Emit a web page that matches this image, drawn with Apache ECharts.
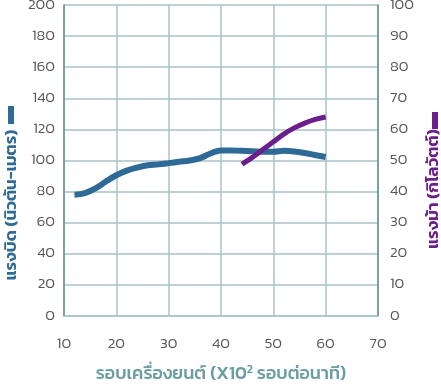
<!DOCTYPE html>
<html>
<head>
<meta charset="utf-8">
<script src="https://cdn.jsdelivr.net/npm/echarts@6/dist/echarts.min.js"></script>
<style>html,body{margin:0;padding:0;background:#fff}#c{width:441px;height:386px}</style>
</head>
<body>
<div id="c"></div>
<script>
var rpm = [12, 14, 16, 18, 20, 22, 24, 26, 28, 30, 32, 34, 36, 38, 40, 42, 44, 46, 48, 50, 52, 54, 56, 58, 60];
var torque = [78, 79, 82, 86.5, 90.5, 93.5, 95.5, 97, 97.5, 98.3, 99.2, 100, 101.5, 104.5, 106.5, 106.5, 106.2, 106, 105.6, 105.6, 106.2, 105.8, 104.8, 103.5, 102.3];
var powerRpm = [44, 46, 48, 50, 52, 54, 56, 58, 60];
var power = [48.8, 51, 53.5, 56, 58.5, 60.5, 62, 63.2, 64];
var leftTicks = [0, 20, 40, 60, 80, 100, 120, 140, 160, 180, 200];
var rightTicks = [0, 10, 20, 30, 40, 50, 60, 70, 80, 90, 100];
var xNameA = 'รอบเครื่องยนต์ (X10';
var xNameSup = '2';
var xNameB = ' รอบต่อนาที)';
var leftName = 'แรงบิด (นิวตัน-เมตร)';
var rightName = 'แรงม้า (กิโลวัตต์)';

var font = 'Kanit, "Noto Sans Thai", "Noto Sans", "DejaVu Sans", sans-serif';
var chart = echarts.init(document.getElementById('c'), null, {renderer: 'canvas'});
chart.setOption({
  animation: false,
  grid: {left: 64, right: 63, top: 5, bottom: 70, containLabel: false, outerBoundsMode: 'none'},
  xAxis: {
    type: 'value', min: 10, max: 70, interval: 10,
    name: '{a|' + xNameA + '}{s|' + xNameSup + '}{a|' + xNameB + '}',
    nameLocation: 'middle', nameGap: 48,
    nameTextStyle: {
      rich: {
        a: {color: '#6a9ea2', fontSize: 18, fontFamily: font, fontWeight: 500},
        s: {color: '#6a9ea2', fontSize: 12, fontFamily: font, fontWeight: 500, verticalAlign: 'top', padding: [0, 0, 10, 0]}
      }
    },
    axisLine: {show: true, lineStyle: {color: '#a9c3c8', width: 1.5}},
    axisTick: {show: false},
    axisLabel: {color: '#555', fontSize: 15, margin: 21, fontFamily: font, fontWeight: 300},
    splitLine: {show: true, lineStyle: {color: '#a9c3c8', width: 1.5}}
  },
  yAxis: [{
    type: 'value', min: 0, max: 200, interval: 20,
    axisLine: {show: true, lineStyle: {color: '#5f8f94', width: 1.5}},
    axisTick: {show: false},
    axisLabel: {color: '#555', fontSize: 15, margin: 9, fontFamily: font, fontWeight: 300,
      formatter: function (v) { return leftTicks.indexOf(v) >= 0 ? String(v) : ''; }},
    splitLine: {show: true, lineStyle: {color: '#a9c3c8', width: 1.5}}
  }, {
    type: 'value', min: 0, max: 100, interval: 10,
    axisLine: {show: true, lineStyle: {color: '#5f8f94', width: 1.5}},
    axisTick: {show: false},
    axisLabel: {color: '#555', fontSize: 15, margin: 12, fontFamily: font, fontWeight: 300,
      formatter: function (v) { return rightTicks.indexOf(v) >= 0 ? String(v) : ''; }},
    splitLine: {show: false}
  }],
  graphic: [{
    type: 'text', x: 12, y: 205, rotation: Math.PI / 2,
    style: {text: leftName, fill: '#2f6b95', font: '600 17px ' + font, align: 'center', verticalAlign: 'middle'}
  }, {
    type: 'rect', shape: {x: 8, y: 106, width: 6, height: 18},
    style: {fill: '#2f6b95'}
  }, {
    type: 'text', x: 434, y: 189, rotation: Math.PI / 2,
    style: {text: rightName, fill: '#6b1f8d', font: '600 17px ' + font, align: 'center', verticalAlign: 'middle'}
  }, {
    type: 'rect', shape: {x: 432, y: 112, width: 6, height: 17},
    style: {fill: '#6b1f8d'}
  }],
  series: [{
    type: 'line', yAxisIndex: 0, smooth: 0.4, showSymbol: false,
    data: rpm.map(function (r, i) { return [r, torque[i]]; }),
    lineStyle: {color: '#2e6a96', width: 6}, z: 3
  }, {
    type: 'line', yAxisIndex: 1, smooth: 0.4, showSymbol: false,
    data: powerRpm.map(function (r, i) { return [r, power[i]]; }),
    lineStyle: {color: '#6a1f8c', width: 5}, z: 4
  }]
});
</script>
</body>
</html>
